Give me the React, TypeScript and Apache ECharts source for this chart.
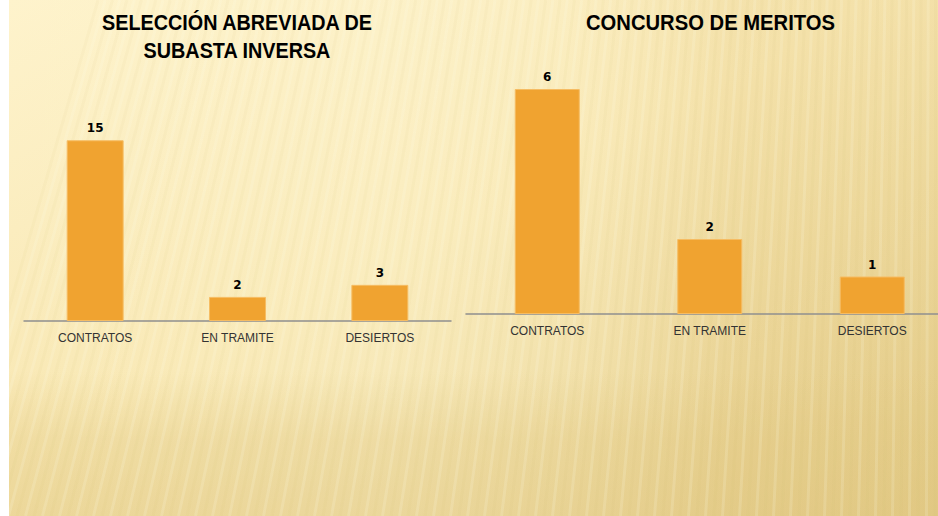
import React, { useEffect, useRef } from "react";
import * as echarts from "echarts";

const categories = ["CONTRATOS", "EN TRAMITE", "DESIERTOS"];
const subastaValues = [15, 2, 3];
const meritosValues = [6, 2, 1];
const subastaTitle = ["SELECCIÓN ABREVIADA DE", "SUBASTA INVERSA"];
const meritosTitle = ["CONCURSO DE MERITOS"];

const W = 929;
const CW = 960;
const H = 516;

function stripes() {
  const els: any[] = [];
  const n = 120;
  for (let i = 0; i < n; i++) {
    const x = -60 + i * 8.5;
    const tilt = 140 * Math.max(0, 1 - x / W);
    els.push({
      type: "line",
      z: -5,
      silent: true,
      shape: { x1: x, y1: H, x2: x + tilt, y2: 0 },
      style: { stroke: i % 2 ? "rgba(255,252,235,0.16)" : "rgba(210,180,100,0.06)", lineWidth: 3 },
    });
  }
  return els;
}

export default function App() {
  const ref = useRef<HTMLDivElement>(null);
  useEffect(() => {
    if (!ref.current) return;
    const chart = echarts.init(ref.current, null, { renderer: "svg" });
    const titleFont = '"Liberation Sans", Arial, sans-serif';
    const axisLabel = {
      color: "#333333",
      fontSize: 12,
      margin: 11,
      fontFamily: '"Liberation Sans", Arial, sans-serif',
    };
    const axisLine = { lineStyle: { color: "#8f8f8f", width: 1.5 } };
    const barLabel = {
      show: true,
      position: "top",
      distance: 6,
      color: "#000",
      fontWeight: "bold",
      fontSize: 12,
      fontFamily: '"DejaVu Sans", Verdana, sans-serif',
    };
    const itemStyle = { color: "#F0A330", borderColor: "#F6BC62", borderWidth: 1 };
    const mkTitle = (lines: string[], cx: number, sx: number) =>
      lines.map((t, i) => ({
        type: "text",
        x: cx,
        y: 22 + i * 28,
        scaleX: sx,
        style: {
          text: t,
          font: `bold 22px ${titleFont}`,
          fill: "#000",
          align: "center",
          verticalAlign: "middle",
        },
      }));
    chart.setOption({
      animation: false,
      graphic: [
        {
          type: "rect",
          z: -10,
          silent: true,
          shape: { x: 0, y: 0, width: CW, height: H },
          style: {
            fill: new echarts.graphic.LinearGradient(0, 0, 1, 1, [
              { offset: 0, color: "#FEF3CC" },
              { offset: 0.45, color: "#F8E7B2" },
              { offset: 1, color: "#DFC680" },
            ]),
          },
        },
        {
          type: "rect",
          z: -9,
          silent: true,
          shape: { x: 0, y: 0, width: W, height: H },
          style: {
            fill: new echarts.graphic.LinearGradient(0, 0, 1, 0, [
              { offset: 0, color: "rgba(255,248,215,0)" },
              { offset: 0.4, color: "rgba(255,248,215,0.35)" },
              { offset: 0.6, color: "rgba(255,248,215,0.2)" },
              { offset: 0.78, color: "rgba(230,205,140,0.25)" },
              { offset: 1, color: "rgba(230,205,140,0.2)" },
            ]),
          },
        },
        {
          type: "rect",
          z: -8,
          silent: true,
          shape: { x: 0, y: 0, width: W, height: H },
          style: {
            fill: new echarts.graphic.LinearGradient(0, 0, 0, 1, [
              { offset: 0, color: "rgba(225,200,130,0)" },
              { offset: 0.72, color: "rgba(225,200,130,0)" },
              { offset: 0.85, color: "rgba(225,200,130,0.35)" },
              { offset: 1, color: "rgba(225,200,130,0.45)" },
            ]),
          },
        },
        ...stripes(),
        ...mkTitle(subastaTitle, 228, 0.9),
        ...mkTitle(meritosTitle, 701.5, 0.92),
      ],
      grid: [
        { left: 15, width: 427, top: 80, height: 241 },
        { left: 457, width: 487.5, top: 51.5, height: 262.5 },
      ],
      xAxis: [
        { type: "category", gridIndex: 0, data: categories, axisLine, axisTick: { show: false }, axisLabel },
        { type: "category", gridIndex: 1, data: categories, axisLine, axisTick: { show: false }, axisLabel },
      ],
      yAxis: [
        { type: "value", gridIndex: 0, min: 0, max: 20, show: false, splitLine: { show: false } },
        { type: "value", gridIndex: 1, min: 0, max: 7, show: false, splitLine: { show: false } },
      ],
      series: [
        { type: "bar", xAxisIndex: 0, yAxisIndex: 0, data: subastaValues, barWidth: "40%", itemStyle, label: barLabel },
        { type: "bar", xAxisIndex: 1, yAxisIndex: 1, data: meritosValues, barWidth: "40%", itemStyle, label: barLabel },
      ],
    });
    return () => chart.dispose();
  }, []);
  return (
    <div style={{ position: "absolute", left: 9, top: 0, width: W, height: H, overflow: "hidden" }}>
      <div ref={ref} style={{ width: CW, height: H }} />
    </div>
  );
}
